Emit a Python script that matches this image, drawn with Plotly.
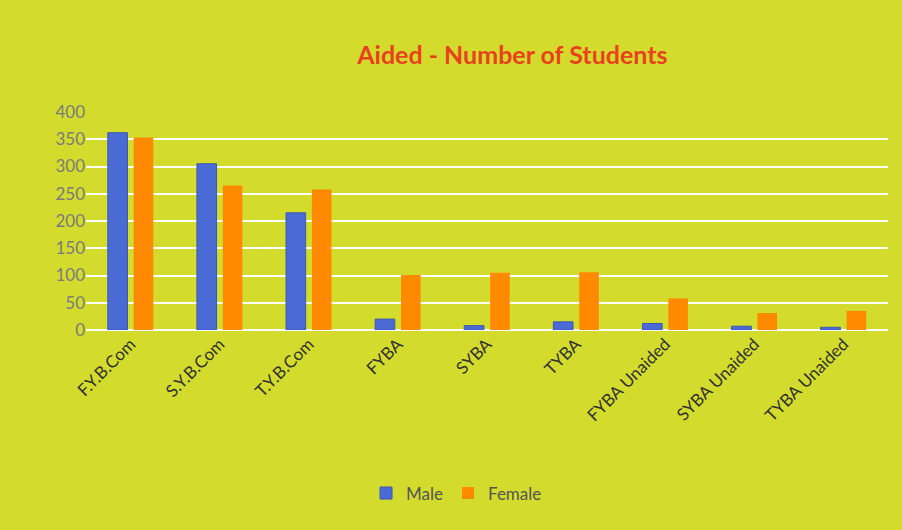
import plotly.graph_objects as go

categories = ["F.Y.B.Com", "S.Y.B.Com", "T.Y.B.Com", "FYBA", "SYBA", "TYBA",
              "FYBA Unaided", "SYBA Unaided", "TYBA Unaided"]
male = [362, 305, 215, 20, 8, 15, 12, 7, 5]
female = [353, 265, 258, 101, 105, 106, 58, 31, 35]
y_ticks = [0, 50, 100, 150, 200, 250, 300, 350, 400]

BG = "#d3dc2c"

fig = go.Figure()
fig.add_trace(go.Bar(name="Male", x=categories, y=male,
                     marker=dict(color="#4a6ad6", line=dict(color="#3b56b8", width=1))))
fig.add_trace(go.Bar(name="Female", x=categories, y=female,
                     marker=dict(color="#ff8a00", line=dict(width=0))))

fig.update_layout(
    width=902, height=530,
    paper_bgcolor=BG, plot_bgcolor=BG,
    font=dict(family="Lato, Open Sans, sans-serif"),
    title=dict(text="<b>Aided - Number of Students</b>", x=0.568, xanchor="center",
               y=0.895, yanchor="middle",
               font=dict(size=25, color="#e8411c", family="Lato, Open Sans, sans-serif")),
    margin=dict(l=86, r=14, t=112, b=200),
    barmode="group", bargap=0.42, bargroupgap=0.24,
    showlegend=True,
    legend=dict(orientation="h", x=0.462, xanchor="center", y=-0.75, yanchor="middle",
                font=dict(size=17, color="#555555"), bgcolor="rgba(0,0,0,0)",
                itemwidth=30, traceorder="normal"),
)
fig.update_yaxes(range=[0, 400], tickvals=y_ticks, showgrid=True, gridcolor="#ffffff",
                 gridwidth=2, zeroline=True, zerolinecolor="#ffffff", zerolinewidth=2,
                 tickfont=dict(size=17, color="#7a7a7a"), ticks="", showline=False)
fig.update_xaxes(tickangle=-45, tickfont=dict(size=17, color="#333333"), showline=False,
                 ticks="", showgrid=False)

fig.write_html("out.html", config={"displayModeBar": False},
               post_script="document.body.style.margin='0';")
